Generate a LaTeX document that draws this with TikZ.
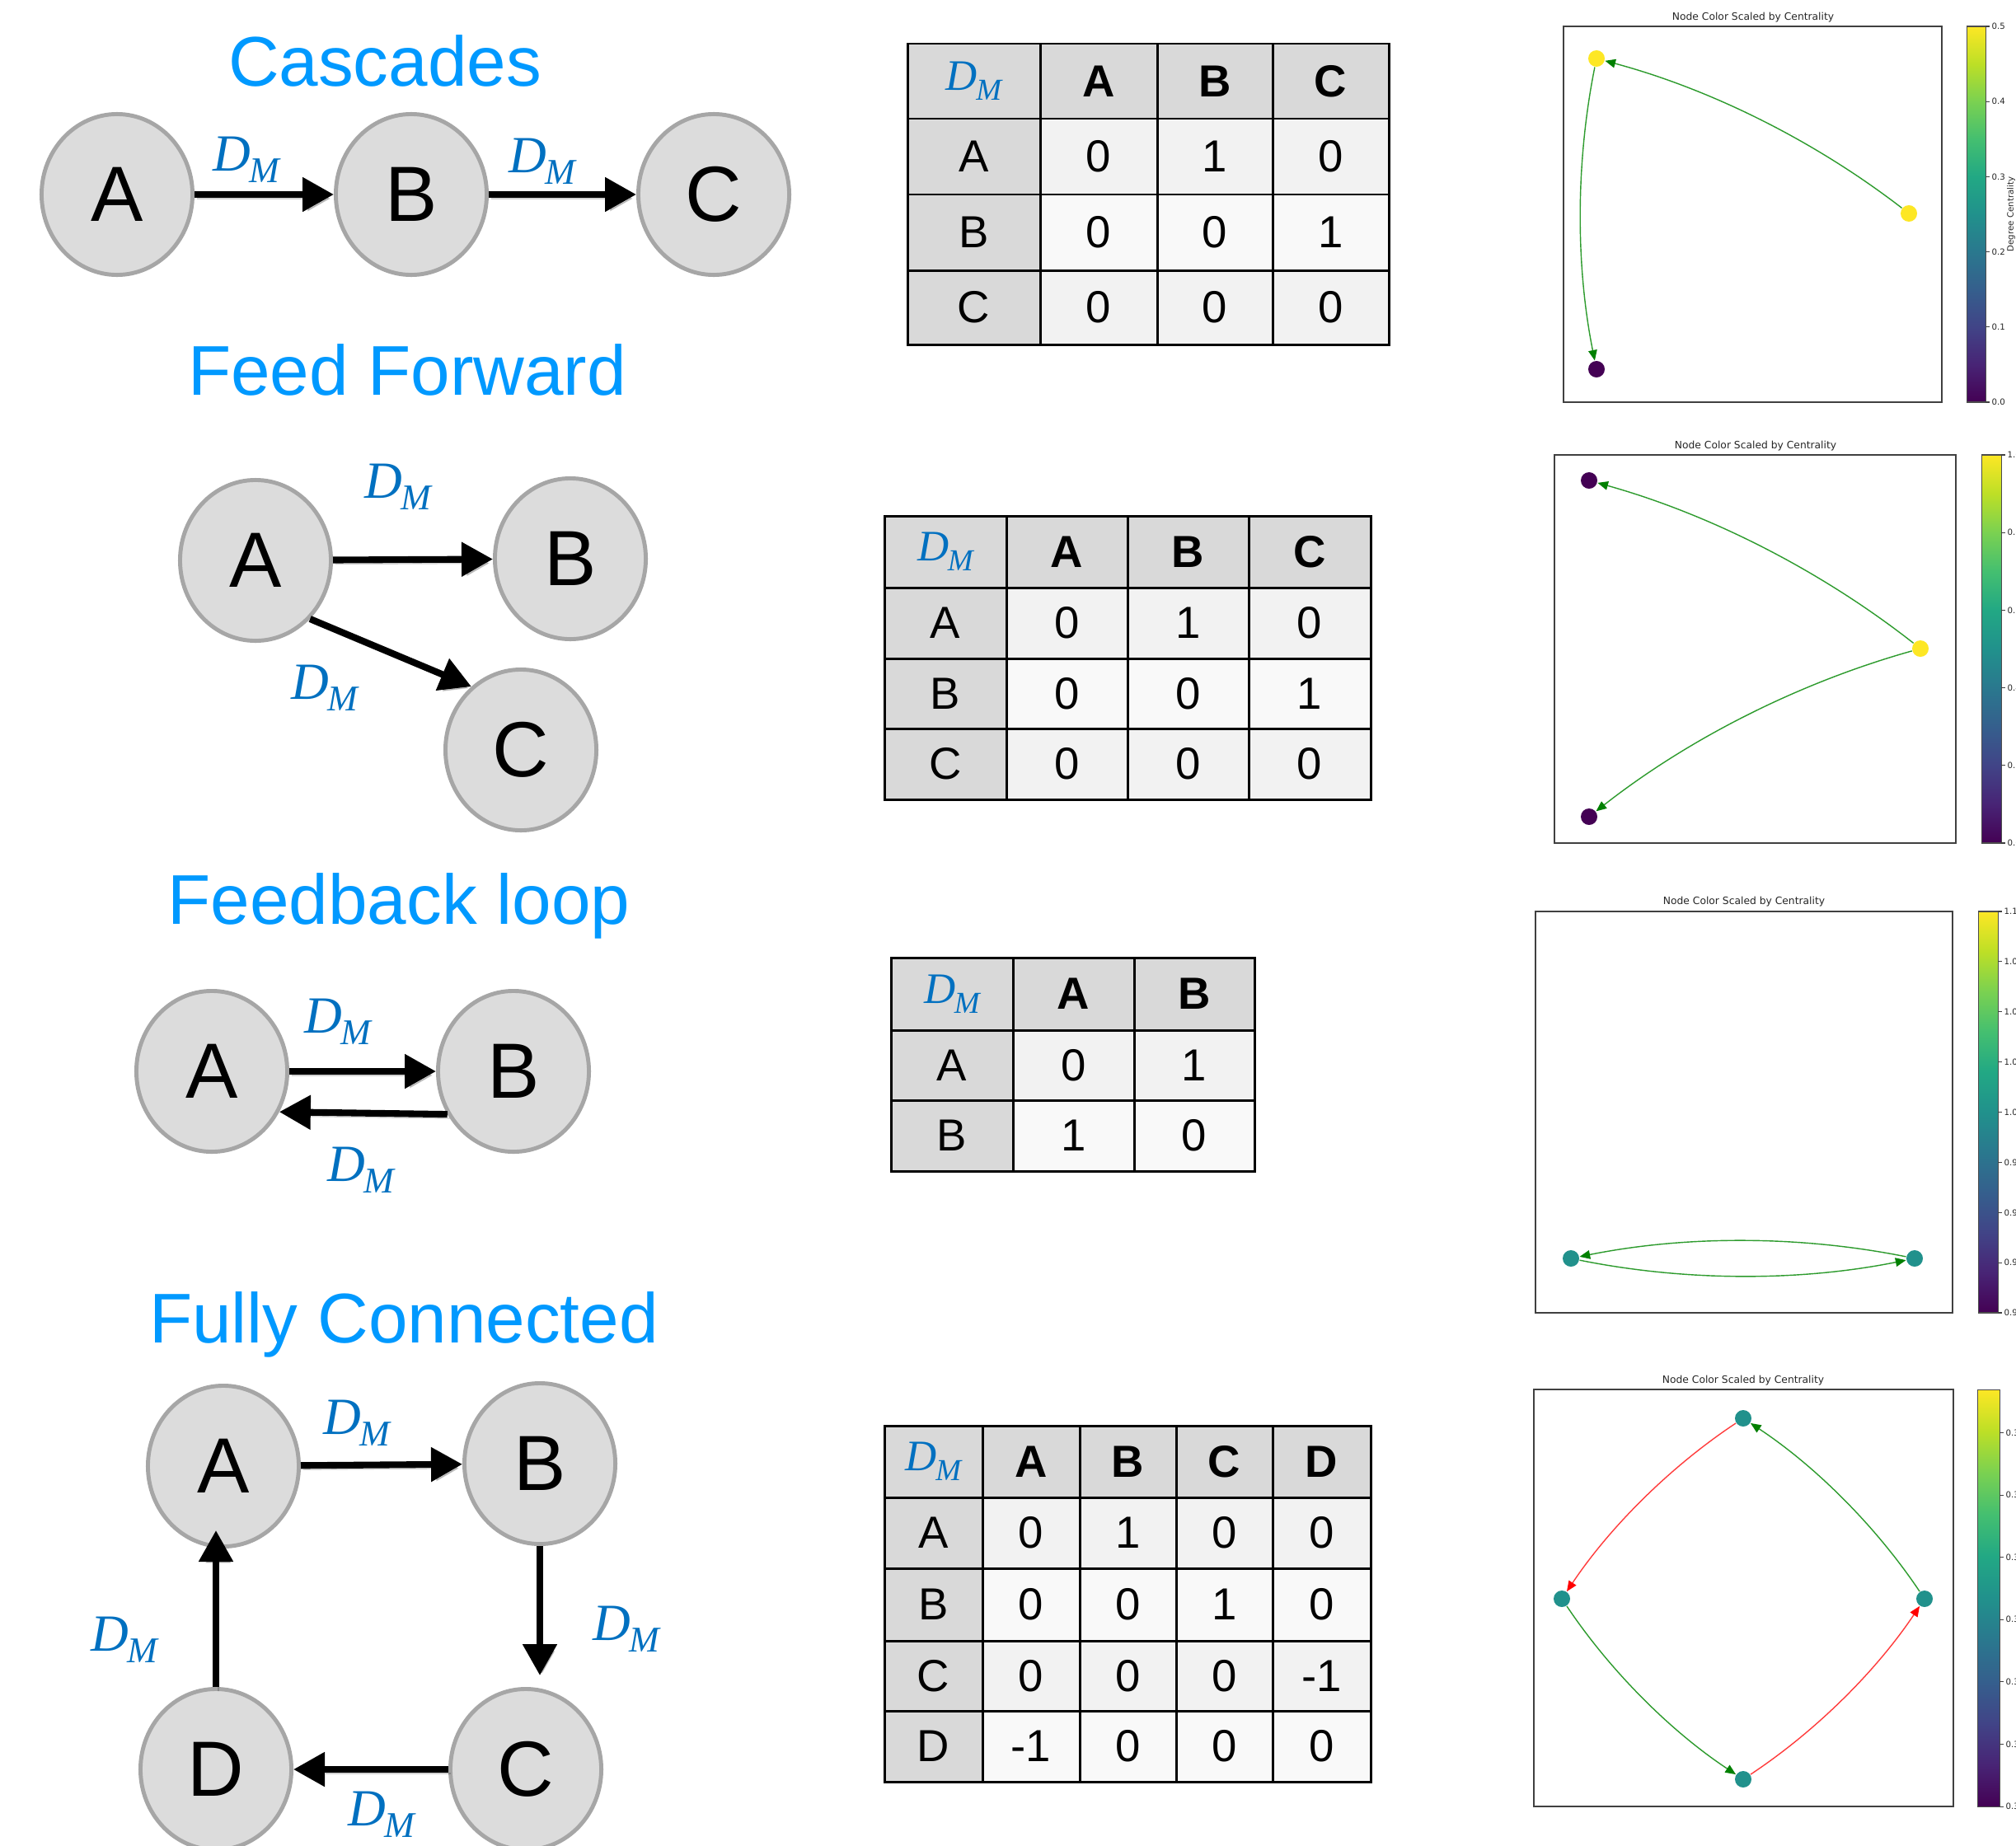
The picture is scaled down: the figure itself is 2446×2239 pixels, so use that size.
\documentclass[tikz,border=0pt]{standalone}
\usepackage{fontspec}
\setmainfont{Liberation Sans}
\newfontfamily\plotfont{DejaVu Sans}
\newfontfamily\dmfont{Liberation Serif}
\usetikzlibrary{shapes.geometric,arrows.meta}
\definecolor{titleblue}{RGB}{0,153,255}
\definecolor{dmblue}{RGB}{0,112,192}
\definecolor{nodefill}{RGB}{220,220,220}
\definecolor{nodeline}{RGB}{166,166,166}
\definecolor{hdr}{RGB}{217,217,217}
\definecolor{rowa}{RGB}{242,242,242}
\definecolor{rowb}{RGB}{249,249,249}
\definecolor{edgegreen}{RGB}{0,128,0}
\definecolor{edgegreenl}{RGB}{45,155,45}
\definecolor{edgered}{RGB}{255,0,0}
\definecolor{edgeredl}{RGB}{255,60,60}
\definecolor{tickgray}{RGB}{38,38,38}
\definecolor{vir0}{HTML}{440154}
\definecolor{vir1}{HTML}{482475}
\definecolor{vir2}{HTML}{414487}
\definecolor{vir3}{HTML}{355F8D}
\definecolor{vir4}{HTML}{2A788E}
\definecolor{vir5}{HTML}{21918C}
\definecolor{vir6}{HTML}{22A884}
\definecolor{vir7}{HTML}{44BF70}
\definecolor{vir8}{HTML}{7AD151}
\definecolor{vir9}{HTML}{BDDF26}
\definecolor{vir10}{HTML}{FDE725}
\pgfdeclareverticalshading{viridis}{100bp}{color(0bp)=(vir0); color(25bp)=(vir0); color(30bp)=(vir1); color(35bp)=(vir2); color(40bp)=(vir3); color(45bp)=(vir4); color(50bp)=(vir5); color(55bp)=(vir6); color(60bp)=(vir7); color(65bp)=(vir8); color(70bp)=(vir9); color(75bp)=(vir10); color(100bp)=(vir10)}
\newcommand{\DMbig}{{\color{dmblue}\dmfont\itshape\fontsize{18pt}{20pt}\selectfont D\kern-0.5pt\raisebox{-4pt}{\fontsize{12.5pt}{14pt}\selectfont M}}}
\newcommand{\DMsmall}{{\color{dmblue}\dmfont\itshape\mdseries\fontsize{15pt}{17pt}\selectfont D\kern-0.5pt\raisebox{-3.3pt}{\fontsize{10.5pt}{12pt}\selectfont M}}}
\begin{document}
\begin{tikzpicture}[x=0.01cm,y=-0.01cm,
  title/.style={text=titleblue, font=\fontsize{24.3pt}{28pt}\selectfont, anchor=base, inner sep=0},
  gnode/.style={ellipse, draw=nodeline, fill=nodefill, line width=1.4pt, minimum width=1.83cm, minimum height=1.95cm, inner sep=0, font=\fontsize{27pt}{30pt}\selectfont},
  dm/.style={inner sep=0},
  bigarrow/.style={line width=2.3pt, -{Triangle[length=10.8pt,width=11.4pt]},
    preaction={draw=black, opacity=0.18, transform canvas={shift={(0.8pt,-1.4pt)}}}},
  cell/.style={inner sep=0, font=\fontsize{15.5pt}{18pt}\selectfont},
  hcell/.style={inner sep=0, font=\fontsize{15.5pt}{18pt}\selectfont\bfseries},
  tabline/.style={line width=0.85pt, draw=black},
  pnode/.style={circle, inner sep=0, minimum size=0.2cm, draw=none},
  gedge/.style={draw=edgegreenl, line width=0.4pt, -{Triangle[length=3.6pt,width=3pt,color=edgegreen]}},
  redge/.style={draw=edgeredl, line width=0.4pt, -{Triangle[length=3.6pt,width=3pt,color=edgered]}},
  axbox/.style={draw=black!75, line width=0.35pt},
  cbbox/.style={draw=black!70, line width=0.3pt},
  ctick/.style={draw=black!75, line width=0.3pt},
  ptitle/.style={font=\plotfont\fontsize{3.5pt}{4.2pt}\selectfont, text=tickgray, inner sep=0},
  tlab/.style={font=\plotfont\fontsize{2.9pt}{3.5pt}\selectfont, text=tickgray, anchor=west, inner sep=0}
]
\useasboundingbox (0,0) rectangle (2446,2239);
\fill[white] (0,0) rectangle (2446,2239);
\clip (0,0) rectangle (2446,2239);

% ================= Row 1: Cascades =================
\node[title] (tCasc) at (467,104) {Cascades};
\node[gnode] (c1A) at (142,236) {A};
\node[gnode] (c1B) at (499,236) {B};
\node[gnode] (c1C) at (866,236) {C};
\draw[bigarrow] (c1A) -- (c1B);
\draw[bigarrow] (c1B) -- (c1C);
\node[dm] (c1l1) at (299,194) {\DMbig};
\node[dm] (c1l2) at (658,196) {\DMbig};

% ================= Row 2: Feed Forward =================
\node[title] (tFF) at (494,479) {Feed Forward};
\node[gnode] (f2A) at (310,680) {A};
\node[gnode] (f2B) at (692,678) {B};
\node[gnode] (f2C) at (632,910) {C};
\draw[bigarrow] (f2A) -- (f2B);
\draw[bigarrow] (f2A.-47) -- (f2C.128);
\node[dm] (f2l1) at (483,591) {\DMbig};
\node[dm] (f2l2) at (394,835) {\DMbig};

% ================= Row 3: Feedback loop =================
\node[title] (tFB) at (484,1121) {Feedback loop};
\node[gnode] (b3A) at (257,1300) {A};
\node[gnode] (b3B) at (623,1300) {B};
\draw[bigarrow] (b3A) -- (b3B);
\draw[bigarrow] (b3B.213) -- (b3A.-31);
\node[dm] (b3l1) at (410,1240) {\DMbig};
\node[dm] (b3l2) at (438,1420) {\DMbig};

% ================= Row 4: Fully Connected =================
\node[title] (tFC) at (490,1629) {Fully Connected};
\node[gnode] (f4A) at (271,1779) {A};
\node[gnode] (f4B) at (655,1776) {B};
\node[gnode] (f4C) at (638,2147) {C};
\node[gnode] (f4D) at (262,2147) {D};
\coordinate (f4BCend) at (655,2033);
\coordinate (f4DAend) at (262,1857);
\draw[bigarrow] (f4A) -- (f4B);
\draw[bigarrow] (f4B.south) -- (f4BCend);
\draw[bigarrow] (f4C) -- (f4D);
\draw[bigarrow] (f4D.north) -- (f4DAend);
\node[dm] (f4l1) at (433,1727) {\DMbig};
\node[dm] (f4l2) at (760,1977) {\DMbig};
\node[dm] (f4l3) at (151,1990) {\DMbig};
\node[dm] (f4l4) at (463,2202) {\DMbig};

% ================= Table 1 =================
\fill[hdr] (1101,53) rectangle (1685,144);
\fill[hdr] (1101,144) rectangle (1262,418);
\fill[rowa] (1262,144) rectangle (1685,236);
\fill[rowb] (1262,236) rectangle (1685,328);
\fill[rowa] (1262,328) rectangle (1685,418);
\foreach \x in {1262,1404,1544} \draw[tabline] (\x,53) -- (\x,418);
\foreach \y in {144,236,328} \draw[tabline] (1101,\y) -- (1685,\y);
\draw[tabline] (1101,53) rectangle (1685,418);
\node[cell] (t1h0) at (1181.5,98.5) {\DMsmall};
\node[hcell] (t1hA) at (1333,98.5) {A};
\node[hcell] (t1hB) at (1474,98.5) {B};
\node[hcell] (t1hC) at (1614.5,98.5) {C};
\node[cell] (t1rA) at (1181.5,190) {A};
\node[cell] (t1rB) at (1181.5,282) {B};
\node[cell] (t1rC) at (1181.5,373) {C};
\node[cell] (t1AA) at (1333,190) {0};
\node[cell] (t1AB) at (1474,190) {1};
\node[cell] (t1AC) at (1614.5,190) {0};
\node[cell] (t1BA) at (1333,282) {0};
\node[cell] (t1BB) at (1474,282) {0};
\node[cell] (t1BC) at (1614.5,282) {1};
\node[cell] (t1CA) at (1333,373) {0};
\node[cell] (t1CB) at (1474,373) {0};
\node[cell] (t1CC) at (1614.5,373) {0};

% ================= Table 2 =================
\fill[hdr] (1073,626) rectangle (1663,713);
\fill[hdr] (1073,713) rectangle (1221,970);
\fill[rowa] (1221,713) rectangle (1663,799);
\fill[rowb] (1221,799) rectangle (1663,884);
\fill[rowa] (1221,884) rectangle (1663,970);
\foreach \x in {1221,1368,1515} \draw[tabline] (\x,626) -- (\x,970);
\foreach \y in {713,799,884} \draw[tabline] (1073,\y) -- (1663,\y);
\draw[tabline] (1073,626) rectangle (1663,970);
\node[cell] (t2h0) at (1147,669.5) {\DMsmall};
\node[hcell] (t2hA) at (1294.5,669.5) {A};
\node[hcell] (t2hB) at (1441.5,669.5) {B};
\node[hcell] (t2hC) at (1589,669.5) {C};
\node[cell] (t2rA) at (1147,756) {A};
\node[cell] (t2rB) at (1147,841.5) {B};
\node[cell] (t2rC) at (1147,927) {C};
\node[cell] (t2AA) at (1294.5,756) {0};
\node[cell] (t2AB) at (1441.5,756) {1};
\node[cell] (t2AC) at (1589,756) {0};
\node[cell] (t2BA) at (1294.5,841.5) {0};
\node[cell] (t2BB) at (1441.5,841.5) {0};
\node[cell] (t2BC) at (1589,841.5) {1};
\node[cell] (t2CA) at (1294.5,927) {0};
\node[cell] (t2CB) at (1441.5,927) {0};
\node[cell] (t2CC) at (1589,927) {0};

% ================= Table 3 =================
\fill[hdr] (1081,1162) rectangle (1522,1250);
\fill[hdr] (1081,1250) rectangle (1229,1421);
\fill[rowa] (1229,1250) rectangle (1522,1335);
\fill[rowb] (1229,1335) rectangle (1522,1421);
\foreach \x in {1229,1376} \draw[tabline] (\x,1162) -- (\x,1421);
\foreach \y in {1250,1335} \draw[tabline] (1081,\y) -- (1522,\y);
\draw[tabline] (1081,1162) rectangle (1522,1421);
\node[cell] (t3h0) at (1155,1206) {\DMsmall};
\node[hcell] (t3hA) at (1302.5,1206) {A};
\node[hcell] (t3hB) at (1449,1206) {B};
\node[cell] (t3rA) at (1155,1292.5) {A};
\node[cell] (t3rB) at (1155,1378) {B};
\node[cell] (t3AA) at (1302.5,1292.5) {0};
\node[cell] (t3AB) at (1449,1292.5) {1};
\node[cell] (t3BA) at (1302.5,1378) {1};
\node[cell] (t3BB) at (1449,1378) {0};

% ================= Table 4 =================
\fill[hdr] (1073,1730) rectangle (1663,1817);
\fill[hdr] (1073,1817) rectangle (1192,2162);
\fill[rowa] (1192,1817) rectangle (1663,1903);
\fill[rowb] (1192,1903) rectangle (1663,1991);
\fill[rowa] (1192,1991) rectangle (1663,2076);
\fill[rowb] (1192,2076) rectangle (1663,2162);
\foreach \x in {1192,1310,1427,1544} \draw[tabline] (\x,1730) -- (\x,2162);
\foreach \y in {1817,1903,1991,2076} \draw[tabline] (1073,\y) -- (1663,\y);
\draw[tabline] (1073,1730) rectangle (1663,2162);
\node[cell] (t4h0) at (1132.5,1773.5) {\DMsmall};
\node[hcell] (t4hA) at (1251,1773.5) {A};
\node[hcell] (t4hB) at (1368.5,1773.5) {B};
\node[hcell] (t4hC) at (1485.5,1773.5) {C};
\node[hcell] (t4hD) at (1603.5,1773.5) {D};
\node[cell] (t4rA) at (1132.5,1860) {A};
\node[cell] (t4rB) at (1132.5,1947) {B};
\node[cell] (t4rC) at (1132.5,2033.5) {C};
\node[cell] (t4rD) at (1132.5,2119) {D};
\node[cell] (t4AA) at (1251,1860) {0};
\node[cell] (t4AB) at (1368.5,1860) {1};
\node[cell] (t4AC) at (1485.5,1860) {0};
\node[cell] (t4AD) at (1603.5,1860) {0};
\node[cell] (t4BA) at (1251,1947) {0};
\node[cell] (t4BB) at (1368.5,1947) {0};
\node[cell] (t4BC) at (1485.5,1947) {1};
\node[cell] (t4BD) at (1603.5,1947) {0};
\node[cell] (t4CA) at (1251,2033.5) {0};
\node[cell] (t4CB) at (1368.5,2033.5) {0};
\node[cell] (t4CC) at (1485.5,2033.5) {0};
\node[cell] (t4CD) at (1603.5,2033.5) {-1};
\node[cell] (t4DA) at (1251,2119) {-1};
\node[cell] (t4DB) at (1368.5,2119) {0};
\node[cell] (t4DC) at (1485.5,2119) {0};
\node[cell] (t4DD) at (1603.5,2119) {0};

% ================= Plot 1 =================
\node[ptitle] (p1title) at (2127,21) {Node Color Scaled by Centrality};
\draw[axbox] (1897,32) rectangle (2356,488);
\shade[shading=viridis] (2386,32) rectangle (2409,488);
\draw[cbbox] (2386,32) rectangle (2409,488);
\foreach \v/\yy [count=\i] in {0.0/488,0.1/396.8,0.2/305.6,0.3/214.4,0.4/123.2,0.5/32}
  \draw[ctick] (2409,\yy) -- (2414,\yy) node[tlab] (p1tick\i) at (2416,\yy) {\v};
\node[tlab, anchor=center, rotate=90] (p1cblabel) at (2440,260) {Degree Centrality};
\node[pnode, fill=vir10] (p1a) at (1937,71) {};
\node[pnode, fill=vir10] (p1b) at (2316,259) {};
\node[pnode, fill=vir0] (p1c) at (1937,448) {};
\draw[gedge] (p1b) .. controls (2202,171) and (2075.7,108.3) .. (p1a);
\draw[gedge] (p1a) .. controls (1911.7,196.7) and (1911.7,322.3) .. (p1c);

% ================= Plot 2 =================
\node[ptitle] (p2title) at (2130,541) {Node Color Scaled by Centrality};
\draw[axbox] (1886,552) rectangle (2373,1023);
\shade[shading=viridis] (2404,552) rectangle (2428,1023);
\draw[cbbox] (2404,552) rectangle (2428,1023);
\foreach \v/\yy [count=\i] in {0.0/1023,0.2/928.8,0.4/834.6,0.6/740.4,0.8/646.2,1.0/552}
  \draw[ctick] (2428,\yy) -- (2433,\yy) node[tlab] (p2tick\i) at (2435,\yy) {\v};
\node[pnode, fill=vir0] (p2a) at (1928,583) {};
\node[pnode, fill=vir10] (p2b) at (2330,787) {};
\node[pnode, fill=vir0] (p2c) at (1928,991) {};
\draw[gedge] (p2b) .. controls (2209.3,692.3) and (2075.3,624.3) .. (p2a);
\draw[gedge] (p2b) .. controls (2182.7,828.3) and (2048.7,896.3) .. (p2c);

% ================= Plot 3 =================
\node[ptitle] (p3title) at (2116,1094) {Node Color Scaled by Centrality};
\draw[axbox] (1863,1106) rectangle (2369,1593);
\shade[shading=viridis] (2400,1106) rectangle (2424,1593);
\draw[cbbox] (2400,1106) rectangle (2424,1593);
\foreach \v/\yy [count=\i] in {0.900/1593,0.925/1532.1,0.950/1471.3,0.975/1410.4,1.000/1349.5,1.025/1288.6,1.050/1227.8,1.075/1166.9,1.100/1106}
  \draw[ctick] (2424,\yy) -- (2429,\yy) node[tlab] (p3tick\i) at (2431,\yy) {\v};
\node[pnode, fill=vir5] (p3a) at (1906,1527) {};
\node[pnode, fill=vir5] (p3b) at (2323,1527) {};
\draw[gedge] (p3a) .. controls (2045,1555) and (2184,1555) .. (p3b);
\draw[gedge] (p3b) .. controls (2184,1499) and (2045,1499) .. (p3a);

% ================= Plot 4 =================
\node[ptitle] (p4title) at (2115,1675) {Node Color Scaled by Centrality};
\draw[axbox] (1861,1686) rectangle (2370,2192);
\shade[shading=viridis] (2399,1686) rectangle (2426,2192);
\draw[cbbox] (2399,1686) rectangle (2426,2192);
\foreach \v/\yy [count=\i] in {0.30/2192,0.31/2116.4,0.32/2040.8,0.33/1965.2,0.34/1889.6,0.35/1814,0.36/1738.4}
  \draw[ctick] (2426,\yy) -- (2431,\yy) node[tlab] (p4tick\i) at (2433,\yy) {\v};
\node[pnode, fill=vir5] (p4t) at (2115,1721) {};
\node[pnode, fill=vir5] (p4l) at (1895,1940) {};
\node[pnode, fill=vir5] (p4r) at (2335,1940) {};
\node[pnode, fill=vir5] (p4b) at (2115,2159) {};
\draw[redge] (p4t) .. controls (2027,1779.3) and (1953.7,1852.3) .. (p4l);
\draw[gedge] (p4r) .. controls (2276.3,1852.3) and (2203,1779.3) .. (p4t);
\draw[gedge] (p4l) .. controls (1953.7,2027.7) and (2027,2100.7) .. (p4b);
\draw[redge] (p4b) .. controls (2203,2100.7) and (2276.3,2027.7) .. (p4r);
\end{tikzpicture}
\end{document}
